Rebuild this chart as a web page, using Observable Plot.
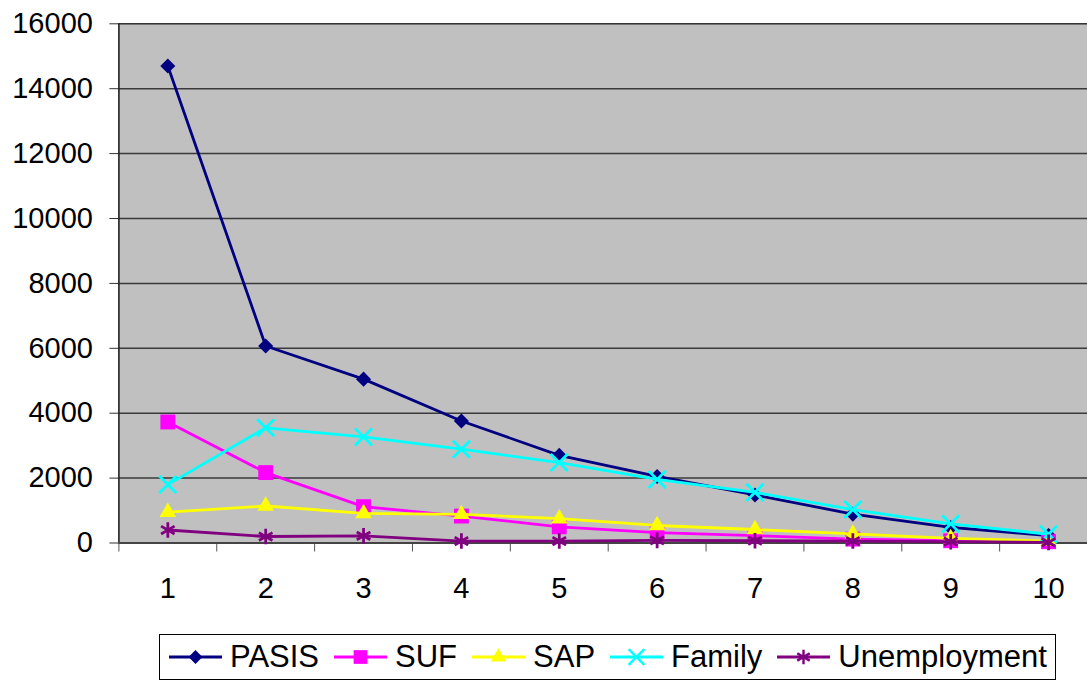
<!DOCTYPE html>
<html>
<head>
<meta charset="utf-8">
<script src="https://cdn.jsdelivr.net/npm/d3@7"></script>
<script src="https://cdn.jsdelivr.net/npm/@observablehq/plot@0.6"></script>
<style>
  html, body { margin: 0; padding: 0; background: #fff; overflow: hidden; }
  #wrap { position: relative; width: 1087px; height: 680px; overflow: hidden; font-family: "Liberation Sans", Arial, sans-serif; }
  #chart { position: absolute; left: 0; top: 0; width: 1097px; }
  #chart svg { max-width: none !important; }
  #legend { position: absolute; left: 159px; top: 634px; width: 897px; height: 46px; box-sizing: border-box;
            border: 1px solid #000; display: flex; align-items: center; padding-left: 9px; font-size: 31px; color: #000; }
  .item { display: flex; align-items: center; margin-right: 15px; }
  .item svg { margin-right: 8px; }
</style>
</head>
<body>
<div id="wrap">
  <div id="chart"></div>
  <div id="legend"></div>
</div>
<script>
const categories = [1, 2, 3, 4, 5, 6, 7, 8, 9, 10];
const pasis = [14700, 6070, 5050, 3760, 2700, 2050, 1480, 890, 480, 230];
const suf = [3730, 2170, 1120, 830, 500, 320, 230, 120, 70, 40];
const sap = [950, 1140, 915, 885, 750, 540, 416, 283, 145, 60];
const family = [1800, 3550, 3270, 2890, 2480, 1960, 1560, 1030, 590, 270];
const unemployment = [400, 200, 220, 60, 60, 80, 70, 60, 40, 20];
const seriesNames = ["PASIS", "SUF", "SAP", "Family", "Unemployment"];
const seriesColors = ["#000080", "#FF00FF", "#FFFF00", "#00FFFF", "#800080"];
const yTicks = [0, 2000, 4000, 6000, 8000, 10000, 12000, 14000, 16000];

const seriesValues = [pasis, suf, sap, family, unemployment];
const symbolSpecs = [
  {symbol: "square", r: 6.0, rotate: 45, filled: true},
  {symbol: "square", r: 8.4, rotate: 0, filled: true},
  {symbol: "triangle", r: 6.2, rotate: 0, filled: true},
  {symbol: "times", r: 7.8, rotate: 0, filled: false},
  {symbol: "asterisk", r: 7.4, rotate: 0, filled: false}
];

const boundaries = d3.range(0.5, 11, 1);

const marks = [
  Plot.frame({fill: "#C0C0C0", stroke: "#808080"}),
  Plot.gridY(yTicks, {stroke: "#222", strokeOpacity: 0.85, strokeWidth: 1.5}),
  Plot.axisY(yTicks, {tickSize: 9, tickPadding: 17, tickFormat: d3.format("d"), fontSize: 29, stroke: "#333", color: "#000", label: null}),
  Plot.axisX(boundaries, {tickSize: 9, tickFormat: () => "", stroke: "#555", label: null}),
  Plot.axisX(categories, {tickSize: 0, tickPadding: 34, fontSize: 29, tickFormat: d => String(d), label: null}),
  Plot.ruleX([0.5], {stroke: "#222", strokeWidth: 1.5}),
  Plot.ruleY([0], {stroke: "#444", strokeWidth: 2})
];

seriesNames.forEach((name, i) => {
  const rows = categories.map((c, j) => ({cat: c, value: seriesValues[i][j], series: name}));
  const spec = symbolSpecs[i];
  marks.push(Plot.line(rows, {x: "cat", y: "value", stroke: seriesColors[i], strokeWidth: 2.8}));
  marks.push(Plot.dot(rows, {
    x: "cat", y: "value", symbol: spec.symbol, r: spec.r, rotate: spec.rotate,
    fill: spec.filled ? seriesColors[i] : "none",
    stroke: spec.filled ? "none" : seriesColors[i],
    strokeWidth: spec.filled ? 0 : 2.8
  }));
});

const chart = Plot.plot({
  width: 1097,
  height: 620,
  marginLeft: 118.4,
  marginRight: 0,
  marginTop: 23.3,
  marginBottom: 77.5,
  style: {fontFamily: "'Liberation Sans', Arial, sans-serif", background: "transparent", overflow: "visible", maxWidth: "none"},
  x: {type: "linear", domain: [0.5, 10.5], axis: null, label: null},
  y: {domain: [0, 16000], axis: null, label: null},
  marks
});
document.getElementById("chart").appendChild(chart);

// Legend
const legend = d3.select("#legend");
seriesNames.forEach((name, i) => {
  const spec = symbolSpecs[i];
  const item = legend.append("div").attr("class", "item");
  const svg = item.append("svg").attr("width", 53).attr("height", 20);
  svg.append("line").attr("x1", 0).attr("x2", 53).attr("y1", 10).attr("y2", 10)
    .attr("stroke", seriesColors[i]).attr("stroke-width", 2.8);
  const symMap = {square: d3.symbolSquare, triangle: d3.symbolTriangle, times: d3.symbolTimes, asterisk: d3.symbolAsterisk};
  const path = d3.symbol(symMap[spec.symbol], Math.PI * spec.r * spec.r * 0.85)();
  svg.append("path").attr("d", path)
    .attr("transform", `translate(26.5,10) rotate(${spec.rotate})`)
    .attr("fill", spec.filled ? seriesColors[i] : "none")
    .attr("stroke", spec.filled ? "none" : seriesColors[i])
    .attr("stroke-width", spec.filled ? 0 : 2.4);
  item.append("span").text(name);
});
</script>
</body>
</html>
